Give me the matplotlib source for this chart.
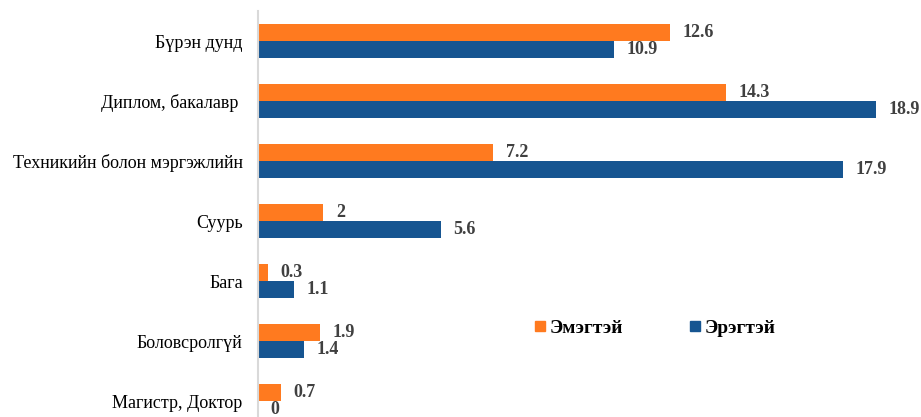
import matplotlib.pyplot as plt
import numpy as np
from matplotlib.lines import Line2D

categories = ["Бүрэн дунд", "Диплом, бакалавр ", "Техникийн болон мэргэжлийн",
              "Суурь", "Бага", "Боловсролгүй", "Магистр, Доктор"]
female = [12.6, 14.3, 7.2, 2, 0.3, 1.9, 0.7]
male = [10.9, 18.9, 17.9, 5.6, 1.1, 1.4, 0]
series_names = ["Эмэгтэй", "Эрэгтэй"]

orange = "#FF7A1F"
blue = "#165591"

plt.rcParams["font.family"] = ["Liberation Serif", "DejaVu Serif"]

fig = plt.figure(figsize=(9.21, 4.17), dpi=100)
ax = fig.add_axes([258 / 921, -14 / 417, 654 / 921, 420 / 417])

y = np.arange(len(categories))
h = 0.283
ax.barh(y - h / 2, female, height=h, color=orange)
ax.barh(y + h / 2, male, height=h, color=blue)

for yi, v in zip(y, female):
    ax.annotate(f"{v:g}", (v, yi - h / 2), xytext=(9, 0), textcoords="offset points",
                va="center", ha="left", fontsize=13, fontweight="bold", color="#404040")
for yi, v in zip(y, male):
    ax.annotate(f"{v:g}", (v, yi + h / 2), xytext=(9, 0), textcoords="offset points",
                va="center", ha="left", fontsize=13, fontweight="bold", color="#404040")

ax.set_xlim(0, 20)
ax.set_ylim(len(categories) - 0.5, -0.5)
ax.set_yticks(y)
ax.set_yticklabels(categories, fontsize=13)
ax.tick_params(axis="y", length=0, pad=11)
ax.set_xticks([])
for s in ["top", "right", "bottom"]:
    ax.spines[s].set_visible(False)
ax.spines["left"].set_color("#d9d9d9")
ax.spines["left"].set_linewidth(1.5)

handles = [Line2D([], [], marker="s", linestyle="none", markersize=7.5, color=c)
           for c in (orange, blue)]
leg = fig.legend(handles, series_names, loc="center", bbox_to_anchor=(655 / 921, 1 - 328 / 417),
                 ncol=2, frameon=False, handlelength=0.6, handletextpad=0.2,
                 columnspacing=3.4, borderpad=0, prop={"size": 14, "weight": "bold"})

fig.savefig("out.png", dpi=100)
